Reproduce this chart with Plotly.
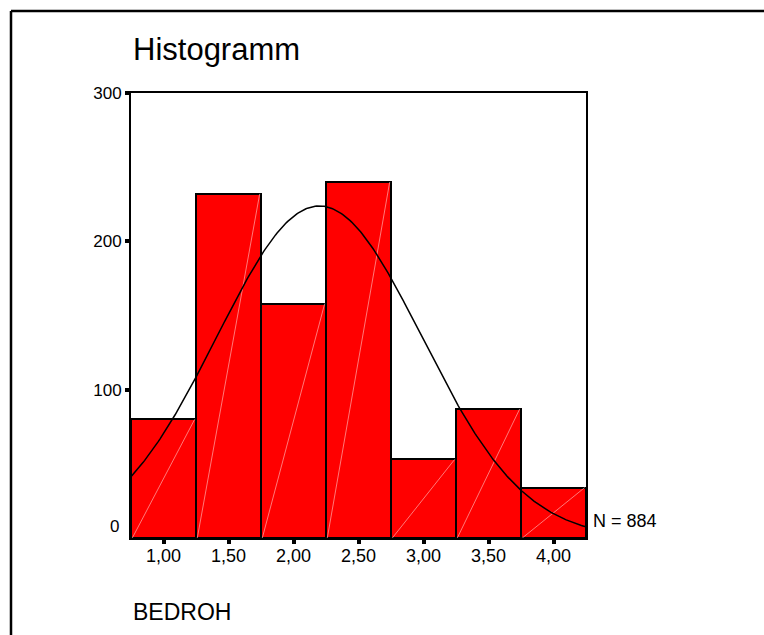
import numpy as np
import plotly.graph_objects as go

# ---- data ----
bin_centers = [1.0, 1.5, 2.0, 2.5, 3.0, 3.5, 4.0]
counts = [80, 232, 158, 240, 53, 87, 34]
bin_width = 0.5
x_tick_vals = [1.0, 1.5, 2.0, 2.5, 3.0, 3.5, 4.0]
x_tick_text = ["1,00", "1,50", "2,00", "2,50", "3,00", "3,50", "4,00"]
y_tick_vals = [0, 100, 200, 300]
y_tick_text = ["0", "100", "200", "300"]
title_text = "Histogramm"
var_name = "BEDROH"

W, H = 764, 635
L, R, T, B = 131, 586, 93, 538  # plot area in px

xc = np.array(bin_centers)
cnt = np.array(counts, dtype=float)
N = int(cnt.sum())
mean = (xc * cnt).sum() / N
sd = np.sqrt(((xc - mean) ** 2 * cnt).sum() / (N - 1))
xmin, xmax = xc[0] - bin_width / 2, xc[-1] + bin_width / 2
xs = np.linspace(xmin, xmax, 300)
ys = N * bin_width * np.exp(-0.5 * ((xs - mean) / sd) ** 2) / (sd * np.sqrt(2 * np.pi))

fig = go.Figure()
fig.add_trace(go.Bar(
    x=bin_centers, y=counts, width=bin_width,
    marker=dict(color="#ff0000", line=dict(color="black", width=2)),
    hoverinfo="skip",
))
# rendering seams (diagonals) visible in the original bars
sx, sy = [], []
for c, v in zip(bin_centers, counts):
    sx += [c - bin_width / 2 + 0.01, c + bin_width / 2 - 0.01, None]
    sy += [0, v, None]
fig.add_trace(go.Scatter(x=sx, y=sy, mode="lines",
                         line=dict(color="rgba(255,200,200,0.6)", width=1),
                         hoverinfo="skip"))
fig.add_trace(go.Scatter(x=xs, y=ys, mode="lines",
                         line=dict(color="black", width=1.5), hoverinfo="skip"))

font = "Liberation Sans, Arial, sans-serif"
fig.update_layout(
    width=W, height=H,
    margin=dict(l=L, r=W - R, t=T, b=H - B, pad=0),
    paper_bgcolor="white", plot_bgcolor="white",
    showlegend=False, bargap=0,
    font=dict(family=font, color="black", size=17),
)
fig.update_xaxes(
    range=[xmin, xmax], tickvals=x_tick_vals, ticktext=x_tick_text,
    ticks="outside", ticklen=4, tickwidth=4, tickcolor="black",
    ticklabelstandoff=-4,
    showline=True, linecolor="black", linewidth=2, mirror=True,
    showgrid=False, zeroline=False, tickfont=dict(size=18),
)
fig.update_yaxes(
    range=[0, 300], tickvals=y_tick_vals[1:], ticktext=y_tick_text[1:],
    ticks="outside", ticklen=4, tickwidth=4, tickcolor="black",
    showline=True, linecolor="black", linewidth=2, mirror=True,
    showgrid=False, zeroline=False, tickfont=dict(size=17),
)

ann = []
ann.append(dict(x=0, y=y_tick_vals[0], xref="paper", yref="y", text=y_tick_text[0],
                showarrow=False, xanchor="right", yanchor="middle", xshift=-10, yshift=12,
                font=dict(size=17)))
ann.append(dict(x=xmax, y=0, xref="x", yref="y", text=f"N = {N}",
                showarrow=False, xanchor="left", yanchor="middle", xshift=5, yshift=17,
                font=dict(size=18)))
ann.append(dict(x=0, y=(B - 50) / (B - T), xref="paper", yref="paper", text=title_text,
                showarrow=False, xanchor="left", yanchor="middle", font=dict(size=31)))
ann.append(dict(x=0, y=(B - 612) / (B - T), xref="paper", yref="paper", text=var_name,
                showarrow=False, xanchor="left", yanchor="middle", font=dict(size=23)))
fig.update_layout(annotations=ann)

# outer frame (left and top lines)
pw, ph = R - L, B - T
bx = (11 - L) / pw
by = (B - 11) / ph
fig.add_shape(type="line", xref="paper", yref="paper", x0=bx, x1=bx, y0=by, y1=(B - 700) / ph,
              line=dict(color="black", width=2.5))
fig.add_shape(type="line", xref="paper", yref="paper", x0=bx, x1=(800 - L) / pw, y0=by, y1=by,
              line=dict(color="black", width=2.5))

fig.write_html("out.html", config={"displayModeBar": False},
               post_script="document.body.style.margin='0';")
